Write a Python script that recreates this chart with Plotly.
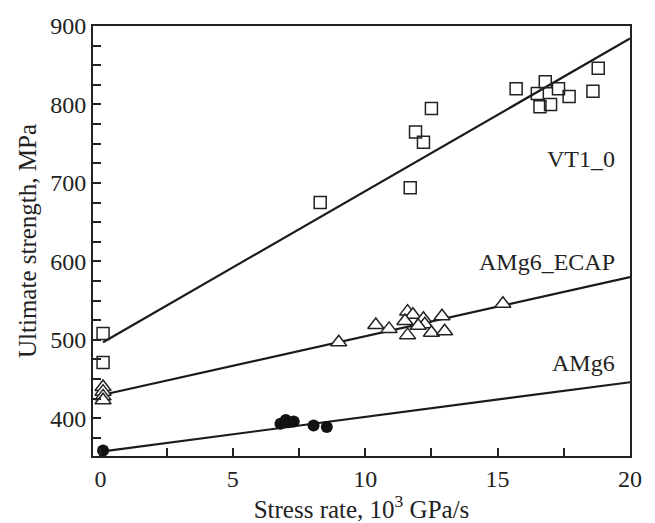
import plotly.graph_objects as go

# VT1_0 (open squares)
vt_x = [0.1, 0.1, 8.3, 11.7, 11.9, 12.2, 12.5, 15.7, 16.5, 16.6, 16.8, 17.0, 17.3, 17.7, 18.6, 18.8]
vt_y = [508, 471, 675, 694, 765, 752, 795, 820, 814, 797, 829, 800, 820, 810, 817, 846]

# AMg6_ECAP (open triangles)
ec_x = [0.1, 0.1, 0.1, 0.1, 9.0, 10.4, 10.9, 11.6, 11.8, 11.5, 11.6, 12.2, 12.25, 12.0, 12.5, 12.9, 13.0, 15.2]
ec_y = [440, 434, 428, 423, 497, 519, 514, 536, 532, 524, 506, 527, 520, 518, 509, 530, 511, 546]

# AMg6 (filled circles)
am_x = [0.1, 6.8, 7.0, 7.1, 7.3, 8.05, 8.55]
am_y = [359, 393, 398, 395, 396, 391, 389]

# fit lines (endpoints)
line_x = [0.1, 20]
vt_line = [497, 884]
ec_line = [430, 580]
am_line = [358, 446]

labels = ["VT1_0", "AMg6_ECAP", "AMg6"]
label_x = [19.5, 19.5, 19.5]
label_y = [731, 599, 470]

FONT = "Liberation Serif"

fig = go.Figure()
for ly in [vt_line, ec_line, am_line]:
    fig.add_trace(go.Scatter(x=line_x, y=ly, mode="lines",
                             line=dict(color="#1a1a1a", width=2.2), showlegend=False))

fig.add_trace(go.Scatter(x=vt_x, y=vt_y, mode="markers",
                         marker=dict(symbol="square-open", size=12, color="#222",
                                     line=dict(width=1.5)), showlegend=False))
fig.add_trace(go.Scatter(x=ec_x, y=ec_y, mode="markers",
                         marker=dict(symbol="triangle-up", size=14, color="white",
                                     line=dict(width=1.5, color="#222")), showlegend=False))
fig.add_trace(go.Scatter(x=am_x, y=am_y, mode="markers",
                         marker=dict(symbol="circle", size=12, color="#111",
                                     line=dict(width=0)), showlegend=False))

for t, x, y in zip(labels, label_x, label_y):
    fig.add_annotation(x=x, y=y, text=t, showarrow=False, xanchor="right", yanchor="middle",
                       font=dict(family=FONT, size=24, color="#222"))

axis_common = dict(showline=True, linecolor="#222", linewidth=2, mirror=True,
                   ticks="inside", ticklen=8, tickwidth=1.5, tickcolor="#222",
                   showgrid=False, zeroline=False,
                   tickfont=dict(family=FONT, size=24, color="#222"))

fig.update_xaxes(range=[-0.28, 20], tickvals=[0, 5, 10, 15, 20],
                 minor=dict(dtick=2.5, tick0=0, ticks="inside", ticklen=8, tickwidth=1.5, tickcolor="#222"),
                 title=dict(text="Stress rate, 10<sup>3</sup> GPa/s", font=dict(family=FONT, size=25, color="#222"),
                            standoff=2),
                 **axis_common)
fig.update_yaxes(range=[352, 900], tickvals=[400, 500, 600, 700, 800, 900],
                 minor=dict(dtick=25, tick0=0, ticks="inside", ticklen=8, tickwidth=1.5, tickcolor="#222"),
                 title=dict(text="Ultimate strength, MPa", font=dict(family=FONT, size=25, color="#222"),
                            standoff=6),
                 **axis_common)

fig.update_layout(width=655, height=523, margin=dict(l=93, r=25, t=26, b=65),
                  plot_bgcolor="white", paper_bgcolor="white")

fig.write_html("out.html")
